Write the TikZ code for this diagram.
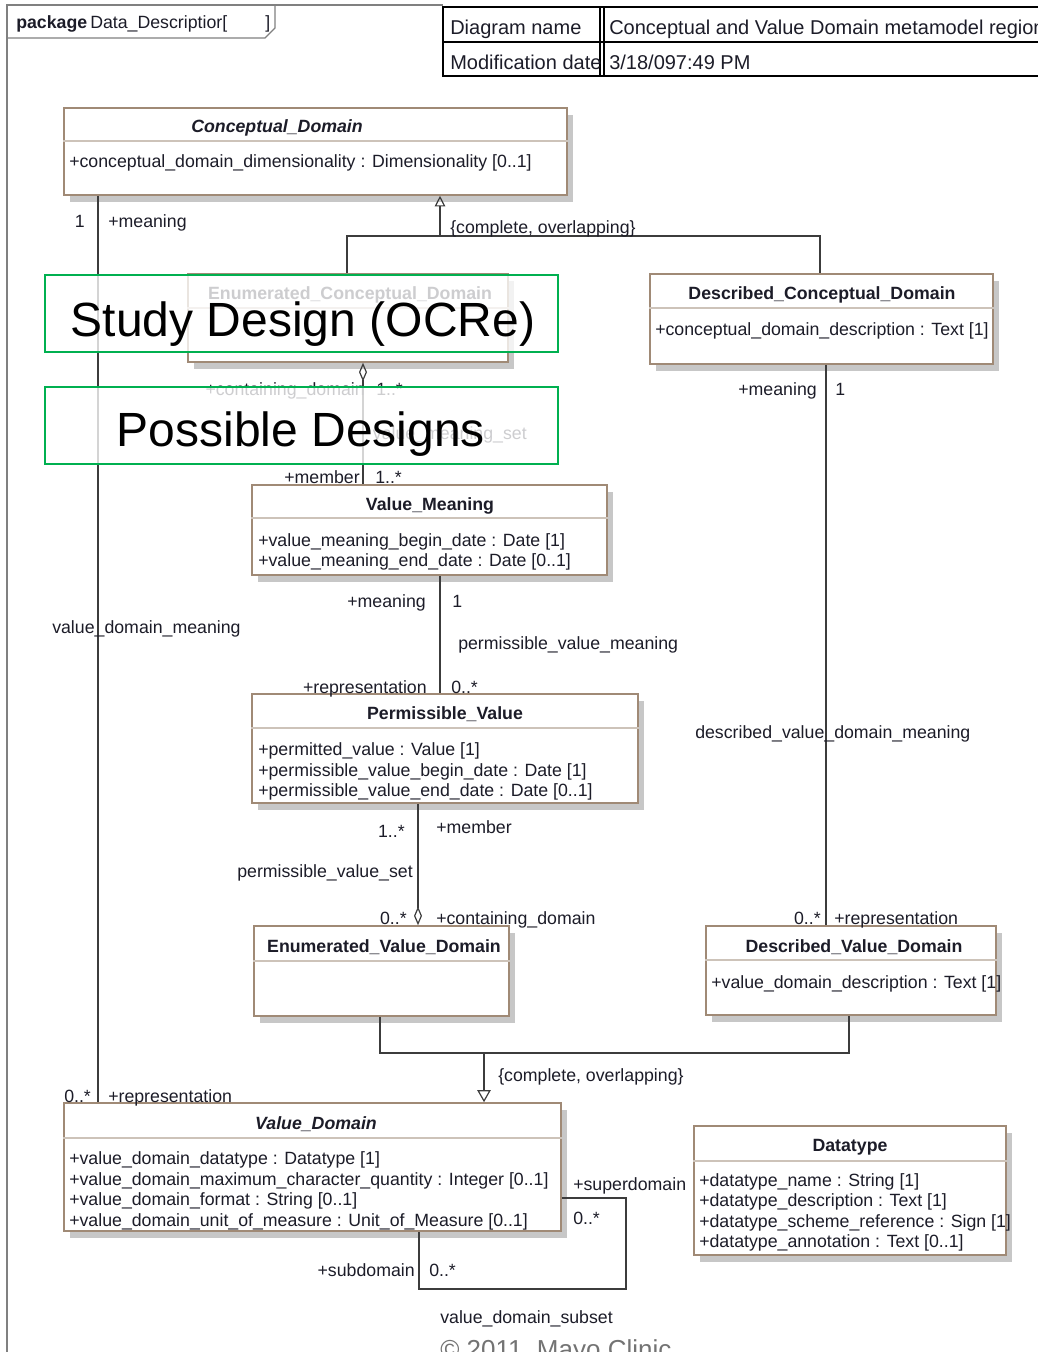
\documentclass[tikz,border=0pt]{standalone}
\usepackage{fontspec}
\setmainfont{Liberation Sans}
\usetikzlibrary{arrows.meta,fit,shadows}
\definecolor{boxline}{RGB}{160,138,118}
\definecolor{hdrline}{RGB}{205,195,185}
\definecolor{inkc}{RGB}{28,28,40}
\definecolor{wirec}{RGB}{60,60,60}
\definecolor{framec}{RGB}{128,128,128}
\definecolor{notegreen}{RGB}{0,176,80}
\newcommand\umlfont{\fontsize{13.3}{15}\selectfont}
\begin{document}
\begin{tikzpicture}[x=0.75pt,y=-0.75pt,
  cls/.style={draw=boxline, line width=1.2pt, fill=white, inner sep=0pt,
    drop shadow={shadow xshift=4.5pt,shadow yshift=-5.5pt,fill=black!22,opacity=1}},
  hdr/.style={draw=hdrline, line width=1.6pt},
  ttl/.style={font=\umlfont\bfseries, text=inkc, inner sep=0pt, anchor=base},
  lw/.style={font=\umlfont, text=inkc, inner sep=0pt, anchor=base west},
  le/.style={font=\umlfont, text=inkc, inner sep=0pt, anchor=base east},
  wire/.style={draw=wirec, line width=0.9pt},
  gen/.style={wire, -{Triangle[open,length=8pt,width=8pt]}},
  agg/.style={wire, {Diamond[open,length=14pt,width=6pt]}-},
  note/.style={draw=notegreen, line width=1.5pt, fill=white, fill opacity=0.78, inner sep=0pt},
  notetext/.style={font=\fontsize{36}{40}\selectfont, text=black, inner sep=0pt, anchor=base},
  tbl/.style={font=\fontsize{15}{17}\selectfont, text=inkc, inner sep=0pt, anchor=base west}]
\useasboundingbox (0,0) rectangle (1038,1352);
\clip (0,0) rectangle (1038,1352);

% package frame and its tab
\draw[framec, line width=1.4pt] (7,1360) -- (7,5) -- (443,5);
\draw[framec, line width=1pt] (7,38) -- (265,38) -- (275,28) -- (275,5);
\node[lw, font=\umlfont\bfseries] (pkgkw) at (16,29) {package};
\node[lw] (pkgname) at (90,29) {Data\_Descriptior[};
\node[lw] (pkgclose) at (265,29) {]};

% diagram information table
\draw[black, line width=2.2pt] (443,7) rectangle (1050,76);
\draw[black, line width=2.2pt] (443,42) -- (1050,42);
\draw[black, line width=1.2pt] (600,7) -- (600,76) (604,7) -- (604,76);
\node[tbl] (tname) at (450,35) {Diagram name};
\node[tbl] (tnameval) at (609,35) {Conceptual and Value Domain metamodel region};
\node[tbl] (tdate) at (450,70) {Modification date};
\node[tbl] (tdateval) at (609,70) {3/18/097:49 PM};

% classes
\node[cls, fit={(64,108) (567,195)}] (cd) {};
\draw[hdr] (cd.west |- 0,141) -- (cd.east |- 0,141);
\node[ttl, font=\umlfont\bfseries\itshape] (cdt) at (277,133) {Conceptual\_Domain};
\node[lw] (cda1) at (69,168) {+conceptual\_domain\_dimensionality : Dimensionality [0..1]};

\node[cls, fit={(188,274) (508,362)}] (ecd) {};
\draw[hdr] (ecd.west |- 0,308) -- (ecd.east |- 0,308);
\node[ttl] (ecdt) at (350,299) {Enumerated\_Conceptual\_Domain};

\node[cls, fit={(650,274) (993,364)}] (dcd) {};
\draw[hdr] (dcd.west |- 0,308) -- (dcd.east |- 0,308);
\node[ttl] (dcdt) at (822,299) {Described\_Conceptual\_Domain};
\node[lw] (dcda1) at (655,335) {+conceptual\_domain\_description : Text [1]};

\node[cls, fit={(252,485) (607,575)}] (vm) {};
\draw[hdr] (vm.west |- 0,518) -- (vm.east |- 0,518);
\node[ttl] (vmt) at (430,510) {Value\_Meaning};
\node[lw] (vma1) at (258,546) {+value\_meaning\_begin\_date : Date [1]};
\node[lw] (vma2) at (258,566) {+value\_meaning\_end\_date : Date [0..1]};

\node[cls, fit={(252,694) (638,803)}] (pv) {};
\draw[hdr] (pv.west |- 0,728) -- (pv.east |- 0,728);
\node[ttl] (pvt) at (445,719) {Permissible\_Value};
\node[lw] (pva1) at (258,755) {+permitted\_value : Value [1]};
\node[lw] (pva2) at (258,776) {+permissible\_value\_begin\_date : Date [1]};
\node[lw] (pva3) at (258,796) {+permissible\_value\_end\_date : Date [0..1]};

\node[cls, fit={(254,926) (509,1016)}] (evd) {};
\draw[hdr] (evd.west |- 0,961) -- (evd.east |- 0,961);
\node[ttl] (evdt) at (384,952) {Enumerated\_Value\_Domain};

\node[cls, fit={(706,926) (996,1015)}] (dvd) {};
\draw[hdr] (dvd.west |- 0,960) -- (dvd.east |- 0,960);
\node[ttl] (dvdt) at (854,952) {Described\_Value\_Domain};
\node[lw] (dvda1) at (711,988) {+value\_domain\_description : Text [1]};

\node[cls, fit={(64,1103) (561,1231)}] (vd) {};
\draw[hdr] (vd.west |- 0,1138) -- (vd.east |- 0,1138);
\node[ttl, font=\umlfont\bfseries\itshape] (vdt) at (316,1129) {Value\_Domain};
\node[lw] (vda1) at (69,1164) {+value\_domain\_datatype : Datatype [1]};
\node[lw] (vda2) at (69,1185) {+value\_domain\_maximum\_character\_quantity : Integer [0..1]};
\node[lw] (vda3) at (69,1205) {+value\_domain\_format : String [0..1]};
\node[lw] (vda4) at (69,1226) {+value\_domain\_unit\_of\_measure : Unit\_of\_Measure [0..1]};

\node[cls, fit={(694,1126) (1006,1255)}] (dt) {};
\draw[hdr] (dt.west |- 0,1161) -- (dt.east |- 0,1161);
\node[ttl] (dtt) at (850,1151) {Datatype};
\node[lw] (dta1) at (699,1186) {+datatype\_name : String [1]};
\node[lw] (dta2) at (699,1206) {+datatype\_description : Text [1]};
\node[lw] (dta3) at (699,1227) {+datatype\_scheme\_reference : Sign [1]};
\node[lw] (dta4) at (699,1247) {+datatype\_annotation : Text [0..1]};

% value_domain_meaning
\draw[wire] (98,0 |- cd.south) -- (98,0 |- vd.north);
\node[le] (m1a) at (85,227) {1};
\node[lw] (m1b) at (108,227) {+meaning};
\node[lw] (m1c) at (52,633) {value\_domain\_meaning};
\node[lw] (m1d) at (64,1102) {0..*};
\node[lw] (m1e) at (108,1102) {+representation};

% conceptual domain specialisation
\draw[wire] (347,0 |- ecd.north) -- (347,236) -- (820,236) -- (820,0 |- dcd.north);
\draw[gen] (440,236) -- (440,0 |- cd.south);
\node[lw] (g1) at (450,233) {\{complete, overlapping\}};

% value_meaning_set
\draw[agg] (363,0 |- ecd.south) -- (363,0 |- vm.north);
\node[le] (s1a) at (365,395) {+containing\_domain};
\node[lw] (s1b) at (376,395) {1..*};
\node[le] (s1c) at (527,439) {value\_meaning\_set};
\node[le] (s1d) at (360,483) {+member};
\node[lw] (s1e) at (375,483) {1..*};

% permissible_value_meaning
\draw[wire] (440,0 |- vm.south) -- (440,0 |- pv.north);
\node[le] (p1a) at (426,607) {+meaning};
\node[lw] (p1b) at (452,607) {1};
\node[lw] (p1c) at (458,649) {permissible\_value\_meaning};
\node[le] (p1d) at (427,693) {+representation};
\node[lw] (p1e) at (451,693) {0..*};

% permissible_value_set
\draw[agg] (418,0 |- evd.north) -- (418,0 |- pv.south);
\node[le] (q1a) at (405,837) {1..*};
\node[lw] (q1b) at (436,833) {+member};
\node[le] (q1c) at (413,877) {permissible\_value\_set};
\node[le] (q1d) at (407,924) {0..*};
\node[lw] (q1e) at (436,924) {+containing\_domain};

% described_value_domain_meaning
\draw[wire] (826,0 |- dcd.south) -- (826,0 |- dvd.north);
\node[le] (d1a) at (817,395) {+meaning};
\node[lw] (d1b) at (835,395) {1};
\node[lw] (d1c) at (695,738) {described\_value\_domain\_meaning};
\node[le] (d1d) at (821,924) {0..*};
\node[lw] (d1e) at (834,924) {+representation};

% value domain specialisation
\draw[wire] (380,0 |- evd.south) -- (380,1053) -- (849,1053) -- (849,0 |- dvd.south);
\draw[wire, -{Triangle[open,length=9pt,width=10pt]}] (484,1053) -- (484,0 |- vd.north);
\node[lw] (g2) at (498,1081) {\{complete, overlapping\}};

% value_domain_subset
\draw[wire] (vd.east |- 0,1198) -- (626,1198) -- (626,1289) -- (419,1289) -- (419,0 |- vd.south);
\node[lw] (r1a) at (573,1190) {+superdomain};
\node[lw] (r1b) at (573,1224) {0..*};
\node[le] (r1c) at (415,1276) {+subdomain};
\node[lw] (r1d) at (429,1276) {0..*};
\node[lw] (r1e) at (440,1323) {value\_domain\_subset};

% highlighted overlays
\node[note, fit={(45,275) (558,352)}] (ov1) {};
\node[notetext] (ov1t) at (303,336) {Study Design (OCRe)};
\node[note, fit={(45,387) (558,464)}] (ov2) {};
\node[notetext] (ov2t) at (301,446) {Possible Designs};

% footer
\node[lw, font=\fontsize{19.5}{22}\selectfont, text=black!55] (copy) at (440,1358) {\textcopyright{} 2011\ \ Mayo Clinic};
\end{tikzpicture}
\end{document}
